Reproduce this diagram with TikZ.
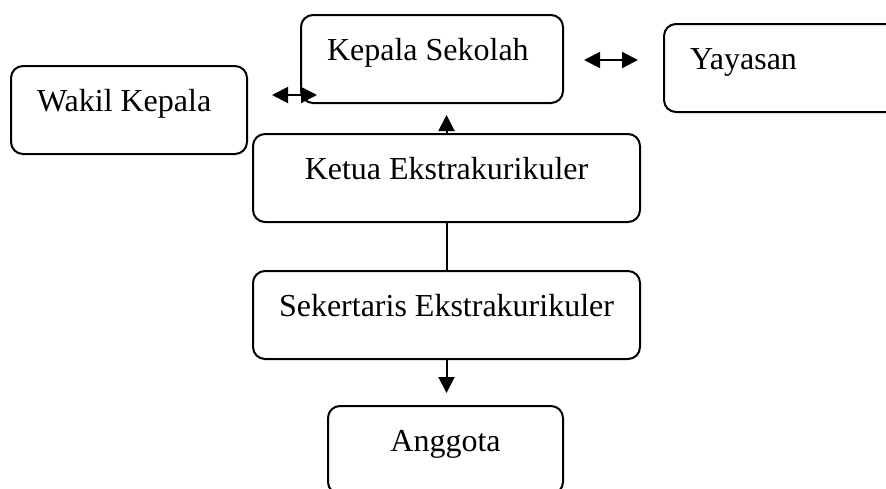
\documentclass[tikz,border=0pt]{standalone}
\usepackage{fontspec}
\setmainfont{Liberation Serif}
\usetikzlibrary{arrows.meta}
\begin{document}
\begin{tikzpicture}[x=0.5pt,y=-0.5pt,>={Triangle[length=8pt,width=8pt]}, line width=1pt, font=\fontsize{16}{19}\selectfont,
	kotak/.style={draw, rounded corners=6pt, anchor=north west, inner xsep=0pt, inner ysep=0pt, text height=22.5pt, text depth=21.5pt},
	kiri/.style={kotak, inner xsep=13pt, align=flush left, text width=#1}]
	\useasboundingbox (0,0) rectangle (886,488);
	% kotak-kotak
	\node[kiri=105pt] (kepala) at (300,14) {Kepala Sekolah};
	\node[kiri=124pt] (yayasan) at (663,23) {Yayasan};
	\node[kiri=92pt] (wakil) at (10,65) {Wakil Kepala};
	\node[kotak, minimum width=193.5pt] (ketua) at (252,133) {Ketua Ekstrakurikuler};
	\node[kotak, minimum width=193.5pt] (sekertaris) at (252,270) {Sekertaris Ekstrakurikuler};
	\node[kotak, minimum width=117.5pt] (anggota) at (327,405) {Anggota};
	% panah
	\draw[<->, shorten <=10pt, shorten >=12.5pt] ([yshift=-0.5pt]kepala.east) -- ([yshift=-0.5pt]kepala.east -| yayasan.west);
	\draw[<->, shorten <=12pt, shorten >=-8.5pt] ([yshift=7.5pt]wakil.east) -- ([yshift=7.5pt]wakil.east -| kepala.west);
	\draw[->, shorten >=5.5pt] (ketua.north) -- (ketua.north |- kepala.south);
	\draw (ketua.south) -- (sekertaris.north);
	\draw[->, shorten >=6pt] (sekertaris.south) -- (sekertaris.south |- anggota.north);
\end{tikzpicture}
\end{document}
